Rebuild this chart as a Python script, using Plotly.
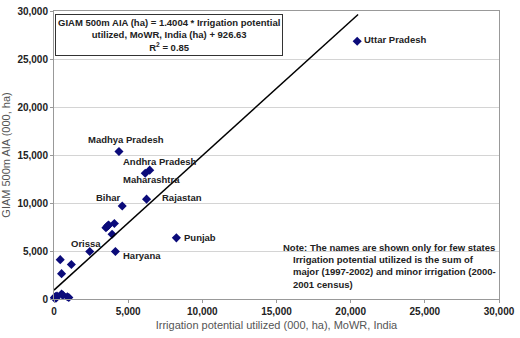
import plotly.graph_objects as go

# Irrigation potential utilized (000 ha) vs GIAM 500m AIA (000 ha)
x_vals = [20440, 4380, 6450, 6150, 6240, 4600, 4070, 3630, 3500, 3680, 3580, 3916,
          4140, 2410, 8250, 420, 510, 1170, 510, 600, 900, 1000, 100, 150, 200, 60, 30]
y_vals = [26850, 15360, 13420, 13100, 10400, 9690, 7860, 7630, 7420, 7700, 7550, 6740,
          4950, 4950, 6370, 4100, 2640, 3590, 510, 400, 240, 150, 250, 100, 300, 50, 150]

slope = 1.4004
intercept = 926.63
line_x = [0, 20500]
line_y = [slope * v + intercept for v in line_x]

label_names = ["Uttar Pradesh", "Madhya Pradesh", "Andhra Pradesh", "Maharashtra", "Bihar",
               "Rajastan", "Punjab", "Orissa", "Haryana"]
label_x = [20770, 2190, 4513, 4513, 2720, 7170, 8630, 995, 4513]
label_y = [27050, 16580, 14340, 12440, 10580, 10580, 6400, 5730, 4510]

x_ticks = [0, 5000, 10000, 15000, 20000, 25000, 30000]
y_ticks = [0, 5000, 10000, 15000, 20000, 25000, 30000]

FONT = "Liberation Sans, Arial, sans-serif"

fig = go.Figure()
fig.add_trace(go.Scatter(x=x_vals, y=y_vals, mode="markers",
                         marker=dict(symbol="diamond", size=7, color="#0b0b7a"),
                         showlegend=False, cliponaxis=False))
fig.add_trace(go.Scatter(x=line_x, y=line_y, mode="lines",
                         line=dict(color="black", width=1.5), showlegend=False))

for n, lx, ly in zip(label_names, label_x, label_y):
    fig.add_annotation(x=lx, y=ly, text="<b>%s</b>" % n, showarrow=False,
                       xanchor="left", yanchor="middle",
                       font=dict(family=FONT, size=9.5, color="#222"))

fig.add_annotation(xref="paper", yref="paper", x=0.258, y=0.915,
                   text="<b>GIAM 500m AIA (ha) = 1.4004 * Irrigation potential<br>"
                        "utilized, MoWR, India (ha) + 926.63<br>R<sup>2</sup> = 0.85</b>",
                   showarrow=False, align="center", xanchor="center", yanchor="middle",
                   bordercolor="#333", borderwidth=1, borderpad=2, bgcolor="white",
                   font=dict(family=FONT, size=9.5, color="#222"))

fig.add_annotation(xref="paper", yref="paper", x=(284 - 53) / 453, y=(299 - 246) / 295,
                   text="<b>Note: The names are shown only for few states</b>",
                   showarrow=False, xanchor="left", yanchor="middle",
                   font=dict(family=FONT, size=9.5, color="#222"))
fig.add_annotation(xref="paper", yref="paper", x=(294 - 53) / 453, y=(299 - 271) / 295,
                   text="<b>Irrigation potential utilized is the sum of<br>"
                        "major (1997-2002) and minor irrigation (2000-<br>2001 census)</b>",
                   showarrow=False, xanchor="left", yanchor="middle", align="left",
                   font=dict(family=FONT, size=9.5, color="#222"))

fig.update_layout(
    width=520, height=338,
    margin=dict(l=53, r=14, t=5, b=39),
    paper_bgcolor="white", plot_bgcolor="white",
    font=dict(family=FONT),
    xaxis=dict(range=[0, 30000], tickvals=x_ticks,
               ticktext=["<b>%s</b>" % format(v, ",") for v in x_ticks],
               tickfont=dict(size=10, color="#222"), showgrid=False, zeroline=False,
               showline=True, linecolor="#999", mirror=True, ticks="outside",
               ticklen=3, tickcolor="#999", ticklabeloverflow="allow",
               title=dict(text="Irrigation potential utilized (000, ha), MoWR, India",
                          font=dict(size=11, color="#555"), standoff=5)),
    yaxis=dict(range=[0, 30000], tickvals=y_ticks,
               ticktext=["<b>%s</b>" % format(v, ",") for v in y_ticks],
               tickfont=dict(size=10, color="#222"), showgrid=True, gridcolor="#d4d4d4",
               zeroline=False, showline=True, linecolor="#999", mirror=True,
               ticks="outside", ticklen=3, tickcolor="#999", ticklabeloverflow="allow",
               title=dict(text="GIAM 500m AIA (000, ha)",
                          font=dict(size=11, color="#555"), standoff=5)),
)

fig.write_html("out.html")
